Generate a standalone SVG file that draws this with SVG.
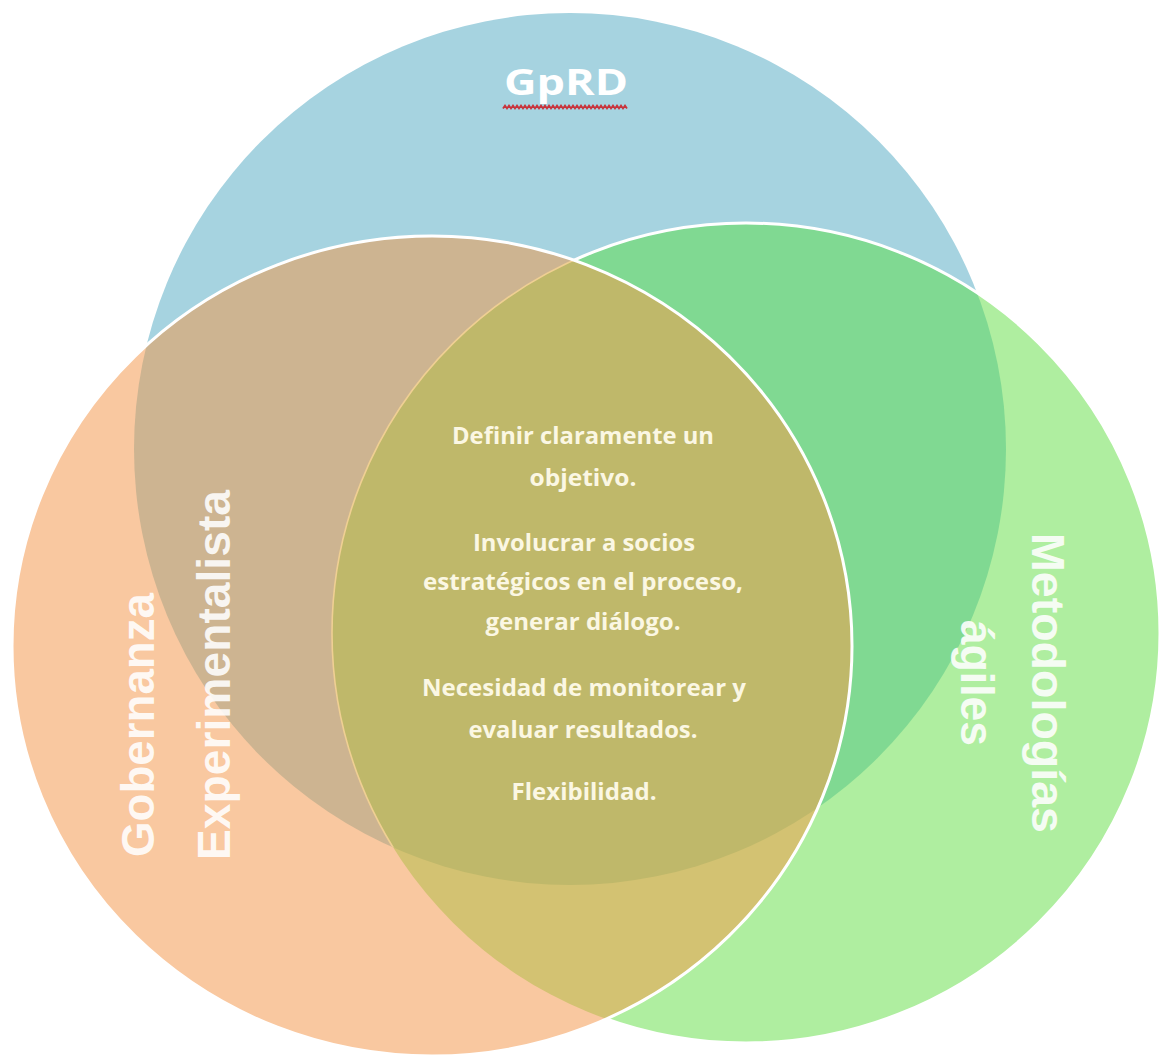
<svg xmlns="http://www.w3.org/2000/svg" width="1161" height="1057" viewBox="0 0 1161 1057">
  <style>
    .lens { font-family: "Open Sans", "Liberation Sans", sans-serif; font-weight: 700; font-size: 24px; fill: #fbf7e3; text-anchor: middle; }
    .side { font-family: "Liberation Sans", Arial, sans-serif; font-weight: 700; font-size: 47px; fill: #ffffff; fill-opacity: 0.88; text-anchor: middle; }
    .title { font-family: "Open Sans", "Liberation Sans", sans-serif; font-weight: 700; font-size: 36px; fill: #ffffff; text-anchor: middle; }
  </style>
  <defs>
    <circle id="shapeBlue" cx="570" cy="449" r="436"/>
    <ellipse id="shapeGreen" cx="746" cy="633" rx="414" ry="410"/>
    <ellipse id="shapeOrange" cx="432" cy="646" rx="420" ry="410"/>
    <clipPath id="inBlue"><use href="#shapeBlue"/></clipPath>
    <clipPath id="inGreen"><use href="#shapeGreen"/></clipPath>
    <clipPath id="inOrange"><use href="#shapeOrange"/></clipPath>
    <!-- everything except the orange set -->
    <mask id="outsideOrange" maskUnits="userSpaceOnUse" x="0" y="0" width="1161" height="1057">
      <rect width="1161" height="1057" fill="#ffffff"/>
      <use href="#shapeOrange" fill="#000000"/>
    </mask>
  </defs>

  <rect width="1161" height="1057" fill="#ffffff"/>

  <!-- base sets -->
  <g id="set-gprd">
    <use href="#shapeBlue" fill="#a6d3e0"/>
  </g>
  <g id="set-metodologias">
    <use href="#shapeGreen" fill="#afeea0"/>
  </g>
  <g id="set-gobernanza">
    <use href="#shapeOrange" fill="#f9c8a0"/>
  </g>

  <!-- pairwise overlaps -->
  <g id="overlap-gprd-metodologias" clip-path="url(#inBlue)">
    <use href="#shapeGreen" fill="#80d992"/>
  </g>
  <g id="overlap-gprd-gobernanza" clip-path="url(#inBlue)">
    <use href="#shapeOrange" fill="#cdb491"/>
  </g>
  <g id="overlap-gobernanza-metodologias" clip-path="url(#inGreen)">
    <use href="#shapeOrange" fill="#d3c272"/>
  </g>
  <!-- centre, shared by all three -->
  <g id="overlap-all" clip-path="url(#inBlue)">
    <g clip-path="url(#inGreen)">
      <use href="#shapeOrange" fill="#bfb86a"/>
    </g>
  </g>

  <!-- outlines -->
  <g id="outlines" fill="none">
    <g mask="url(#outsideOrange)">
      <use href="#shapeGreen" stroke="#ffffff" stroke-width="3"/>
    </g>
    <g clip-path="url(#inOrange)">
      <g clip-path="url(#inBlue)">
        <use href="#shapeGreen" stroke="#efcf93" stroke-width="1.6"/>
      </g>
    </g>
    <use href="#shapeOrange" stroke="#ffffff" stroke-width="3"/>
  </g>

  <!-- labels -->
  <g id="label-gprd">
    <text class="title" x="566" y="95" textLength="124" lengthAdjust="spacingAndGlyphs">GpRD</text>
    <path d="M503 108.5 l2 -3 2 3 2 -3 2 3 2 -3 2 3 2 -3 2 3 2 -3 2 3 2 -3 2 3 2 -3 2 3 2 -3 2 3 2 -3 2 3 2 -3 2 3 2 -3 2 3 2 -3 2 3 2 -3 2 3 2 -3 2 3 2 -3 2 3 2 -3 2 3 2 -3 2 3 2 -3 2 3 2 -3 2 3 2 -3 2 3 2 -3 2 3 2 -3 2 3 2 -3 2 3 2 -3 2 3 2 -3 2 3 2 -3 2 3 2 -3 2 3 2 -3 2 3 2 -3 2 3 2 -3 2 3 2 -3 2 3" fill="none" stroke="#c8343c" stroke-width="1.8"/>
  </g>

  <g id="label-gobernanza">
    <text class="side" transform="translate(154 725) rotate(-90)" textLength="264" lengthAdjust="spacingAndGlyphs">Gobernanza</text>
    <text class="side" transform="translate(230 675) rotate(-90)" textLength="370" lengthAdjust="spacingAndGlyphs">Experimentalista</text>
  </g>

  <g id="label-metodologias">
    <text class="side" transform="translate(1032 683) rotate(90)" textLength="300" lengthAdjust="spacingAndGlyphs">Metodologías</text>
    <text class="side" transform="translate(961 683) rotate(90)" textLength="126" lengthAdjust="spacingAndGlyphs">ágiles</text>
  </g>

  <g id="label-centre">
    <text class="lens" x="583" y="444" textLength="262" lengthAdjust="spacingAndGlyphs">Definir claramente un</text>
    <text class="lens" x="583" y="486" textLength="107" lengthAdjust="spacingAndGlyphs">objetivo.</text>
    <text class="lens" x="584" y="551" textLength="222" lengthAdjust="spacingAndGlyphs">Involucrar a socios</text>
    <text class="lens" x="583" y="590" textLength="320" lengthAdjust="spacingAndGlyphs">estratégicos en el proceso,</text>
    <text class="lens" x="583" y="630" textLength="195" lengthAdjust="spacingAndGlyphs">generar diálogo.</text>
    <text class="lens" x="584" y="696" textLength="324" lengthAdjust="spacingAndGlyphs">Necesidad de monitorear y</text>
    <text class="lens" x="583" y="738" textLength="229" lengthAdjust="spacingAndGlyphs">evaluar resultados.</text>
    <text class="lens" x="584" y="800" textLength="145" lengthAdjust="spacingAndGlyphs">Flexibilidad.</text>
  </g>
</svg>
